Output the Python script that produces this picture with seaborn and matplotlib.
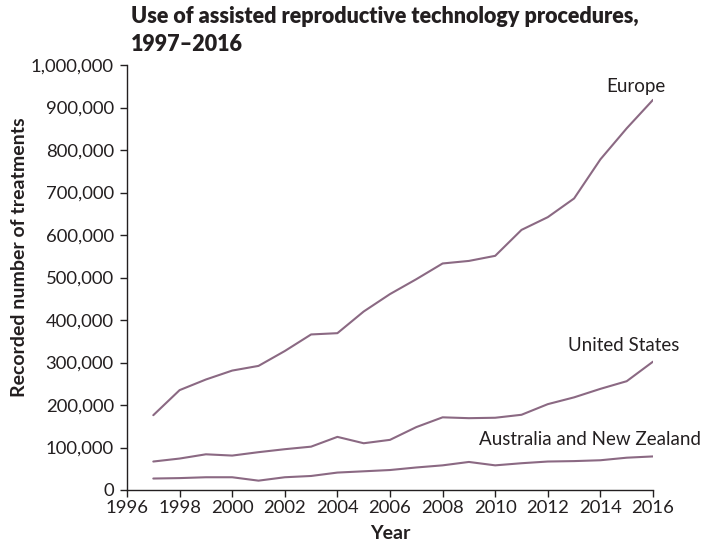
import matplotlib
matplotlib.use("Agg")
import matplotlib.pyplot as plt
import matplotlib.ticker as mticker
import seaborn as sns
import pandas as pd

years = list(range(1997, 2017))
europe = [176000, 235000, 260000, 281000, 292000, 327000, 366000, 369000, 420000, 461000,
          496000, 533000, 539000, 551000, 612000, 642000, 686000, 778000, 851000, 918000]
united_states = [67000, 74000, 84000, 81000, 89000, 96000, 102000, 125000, 110000, 118000,
                 148000, 171000, 169000, 170000, 177000, 202000, 218000, 238000, 256000, 302000]
australia_nz = [27000, 28000, 30000, 30000, 22000, 30000, 33000, 41000, 44000, 47000,
                53000, 58000, 66000, 58000, 63000, 67000, 68000, 70000, 76000, 79000]
region_names = ["Europe", "United States", "Australia and New Zealand"]
x_ticks = list(range(1996, 2017, 2))
y_ticks = list(range(0, 1000001, 100000))

df = pd.DataFrame({
    "Year": years * 3,
    "Treatments": europe + united_states + australia_nz,
    "Region": [region_names[0]] * 20 + [region_names[1]] * 20 + [region_names[2]] * 20,
})

sns.set_style("ticks")
plt.rcParams["font.family"] = ["Lato", "DejaVu Sans"]
text_col = "#231f20"
line_col = "#8b6983"

fig = plt.figure(figsize=(7.27, 5.46), dpi=100)
ax = fig.add_axes([127/727, 1 - 490/546, (653-127)/727, (490-65)/546])

sns.lineplot(data=df, x="Year", y="Treatments", hue="Region",
             palette=[line_col] * 3, linewidth=1.5, legend=False, ax=ax)

ax.set_xlim(1996, 2016)
ax.set_ylim(0, 1000000)
ax.set_xticks(x_ticks)
ax.set_yticks(y_ticks)
ax.yaxis.set_major_formatter(mticker.FuncFormatter(lambda v, p: f"{int(v):,}"))
ax.tick_params(axis="both", labelsize=13.3, colors=text_col, length=5, width=1)
ax.tick_params(axis="x", pad=2.5)
ax.tick_params(axis="y", pad=4.5)
sns.despine(ax=ax)
for s in ["left", "bottom"]:
    ax.spines[s].set_color(text_col)
    ax.spines[s].set_linewidth(1)

ax.set_xlabel("Year", fontsize=14, fontweight="bold", color=text_col)
ax.xaxis.label.set_verticalalignment("top")
ax.xaxis.set_label_coords(0.5, (490 - 525) / 425)
ax.set_ylabel("Recorded number of treatments", fontsize=14, fontweight="bold", color=text_col)
ax.yaxis.set_label_coords((28 - 127) / 526, (490 - 257.5) / 425)

ax.text(2015.35, 950000, region_names[0], ha="center", va="center", fontsize=13.5, color=text_col)
ax.text(2014.9, 341000, region_names[1], ha="center", va="center", fontsize=13.5, color=text_col)
ax.text(2009.4, 118000, region_names[2], ha="left", va="center", fontsize=13.5, color=text_col)

fig.text(131/727, 1 - 6/546, "Use of assisted reproductive technology procedures,\n1997\u20132016",
         ha="left", va="top", fontsize=15.5, fontweight="heavy", color=text_col, linespacing=1.4)

fig.savefig("out.png", dpi=100)
